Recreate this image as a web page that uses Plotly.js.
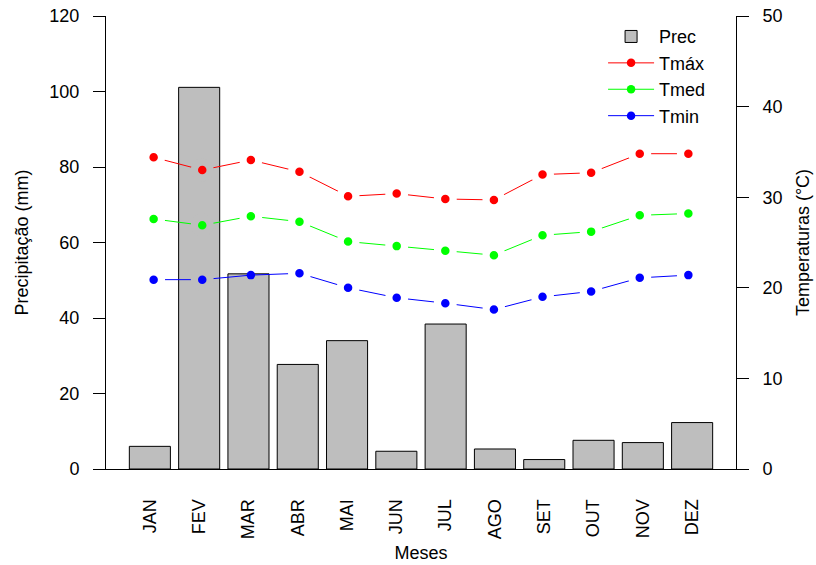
<!DOCTYPE html>
<html>
<head>
<meta charset="utf-8">
<script src="https://cdn.plot.ly/plotly-3.0.1.min.js"></script>
<style>
  html, body { margin: 0; padding: 0; background: #ffffff; }
  #chart { width: 816px; height: 565px; }
</style>
</head>
<body>
<div id="chart"></div>
<script>
// ---- data ----
const months = ['JAN','FEV','MAR','ABR','MAI','JUN','JUL','AGO','SET','OUT','NOV','DEZ'];
const prec = [6.0, 101.1, 51.7, 27.7, 34.0, 4.7, 38.4, 5.3, 2.5, 7.6, 7.0, 12.3];
const tmax = [34.4, 33.0, 34.1, 32.8, 30.1, 30.4, 29.8, 29.7, 32.5, 32.7, 34.8, 34.8];
const tmed = [27.6, 26.9, 27.9, 27.3, 25.1, 24.6, 24.1, 23.6, 25.8, 26.2, 28.0, 28.2];
const tmin = [20.9, 20.9, 21.4, 21.6, 20.0, 18.9, 18.3, 17.6, 19.0, 19.6, 21.1, 21.4];

const precMax = 120, tempMax = 50;
const barColor = '#BEBEBE';
const FONT = 'Liberation Sans, Arial, Helvetica, sans-serif';

const DOT = 8.5;          // visible dot diameter (px)
const RING = 7.2;         // width of the gap ring drawn around each dot (px)
const RING_R = 3.0;       // ring radius expressed in precipitation units

// where a point sits relative to the bar of its month
function place(v, i) {
  const s = v * precMax / tempMax;
  if (s + RING_R < prec[i]) return 'in';
  if (s - RING_R > prec[i]) return 'out';
  return 'edge';
}

const series = [
  { name: 'Tmáx', y: tmax, color: '#FF0000' },
  { name: 'Tmed', y: tmed, color: '#00FF00' },
  { name: 'Tmin', y: tmin, color: '#0000FF' }
];

const traces = [{
  type: 'bar', name: 'Prec', x: months, y: prec,
  xaxis: 'x', yaxis: 'y', width: 0.833,
  marker: { color: barColor, line: { color: '#000000', width: 1 } },
  hoverinfo: 'x+y'
}];

// line through the dots (also the legend entries)
series.forEach(s => {
  traces.push({
    type: 'scatter', mode: 'lines+markers', name: s.name,
    x: months, y: s.y, xaxis: 'x2', yaxis: 'y2',
    line: { color: s.color, width: 1 },
    marker: { color: s.color, size: DOT }
  });
});
// dots with a gap ring on top (like R type = "b"), ring coloured like whatever lies beneath
series.forEach(s => {
  const where = s.y.map((v, i) => place(v, i));
  traces.push({
    type: 'scatter', mode: 'markers', name: s.name, showlegend: false,
    x: months, y: s.y.map((v, i) => where[i] === 'edge' ? null : v),
    xaxis: 'x2', yaxis: 'y2', hoverinfo: 'skip',
    marker: {
      color: s.color, size: DOT + RING,
      line: { color: where.map(w => w === 'in' ? barColor : '#ffffff'), width: RING }
    }
  });
});

const axisFont = { family: FONT, size: 18, color: '#000000' };

const layout = {
  width: 816, height: 565,
  margin: { l: 105.5, r: 80.3, t: 16, b: 96, pad: 0 },
  paper_bgcolor: '#ffffff', plot_bgcolor: '#ffffff',
  font: axisFont,
  showlegend: true,
  legend: {
    x: 0.789, y: 0.995, xanchor: 'left', yanchor: 'top',
    bgcolor: 'rgba(0,0,0,0)', font: { family: FONT, size: 18, color: '#000000' },
    tracegroupgap: 0, itemwidth: 46, borderwidth: 0
  },
  bargap: 0,
  xaxis: {
    type: 'category', categoryorder: 'array', categoryarray: months,
    range: [-0.89, 11.89], showline: true, linecolor: '#000000', linewidth: 1,
    ticks: '', tickangle: -90, tickfont: axisFont, ticklabelstandoff: 22,
    showgrid: false, zeroline: false, automargin: false,
    title: { text: 'Meses', font: axisFont, standoff: 8 }
  },
  xaxis2: {
    type: 'category', categoryorder: 'array', categoryarray: months,
    overlaying: 'x', range: [-0.98, 11.98], visible: false
  },
  yaxis: {
    range: [0, precMax], dtick: 20, tick0: 0,
    ticks: 'outside', ticklen: 12, tickcolor: '#000000', tickwidth: 1,
    showline: true, linecolor: '#000000', linewidth: 1,
    showgrid: false, zeroline: false, tickfont: axisFont, ticklabelstandoff: 10,
    automargin: false,
    title: { text: 'Precipitação (mm)', font: axisFont, standoff: 16 }
  },
  yaxis2: {
    overlaying: 'y', side: 'right', range: [0, tempMax], dtick: 10, tick0: 0,
    ticks: 'outside', ticklen: 12, tickcolor: '#000000', tickwidth: 1,
    showline: true, linecolor: '#000000', linewidth: 1,
    showgrid: false, zeroline: false, tickfont: axisFont, ticklabelstandoff: 10,
    automargin: false,
    title: { text: 'Temperaturas (°C)', font: axisFont, standoff: 14 }
  }
};

Plotly.newPlot('chart', traces, layout, { staticPlot: true, displayModeBar: false });
</script>
</body>
</html>
